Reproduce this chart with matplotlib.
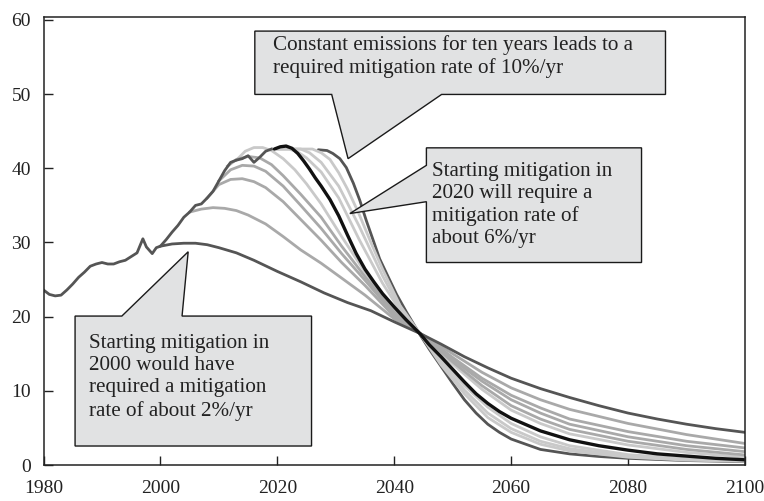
import matplotlib
matplotlib.use("Agg")
import matplotlib.pyplot as plt
from matplotlib.patches import Polygon

plt.rcParams['font.family'] = ['Liberation Serif', 'DejaVu Serif']

# --------------------------data--------------------------

hist_years = [1980, 1981, 1982, 1983, 1984, 1985, 1986, 1987, 1988, 1989, 1990, 1991,
              1992, 1993, 1994, 1995, 1996, 1997, 1997.6, 1998.6, 1999.3, 2000, 2001,
              2002, 2003, 2004, 2005, 2006, 2007, 2008, 2009, 2010, 2011, 2012, 2013,
              2014, 2015, 2016, 2017, 2018, 2019]
hist_vals = [23.6, 23.0, 22.8, 22.9, 23.6, 24.4, 25.3, 26.0, 26.8, 27.1, 27.3, 27.1,
             27.1, 27.4, 27.6, 28.1, 28.6, 30.5, 29.4, 28.5, 29.3, 29.5, 30.4,
             31.4, 32.3, 33.4, 34.1, 35.0, 35.2, 36.0, 36.9, 38.3, 39.7, 40.8, 41.1,
             41.3, 41.7, 40.8, 41.5, 42.3, 42.6]

# mitigation starting in 2000 (about 2%/yr)
m2000_years = [2000, 2002, 2004, 2006, 2008, 2010, 2013, 2016, 2020, 2024, 2028, 2032,
               2036, 2040, 2044.5, 2048, 2052, 2056, 2060, 2065, 2070, 2075, 2080,
               2085, 2090, 2095, 2100]
m2000_vals = [29.5, 29.8, 29.9, 29.9, 29.7, 29.3, 28.6, 27.6, 26.1, 24.7, 23.2, 21.9,
              20.8, 19.3, 17.7, 16.3, 14.6, 13.1, 11.7, 10.3, 9.1, 8.0, 7.0,
              6.2, 5.5, 4.9, 4.4]

# later starts, before 2020
m2005_years = [2005, 2007, 2009, 2011, 2013, 2015, 2018, 2021, 2024, 2027.5, 2031, 2035,
               2040, 2044.5, 2050, 2055, 2060, 2065, 2070, 2080, 2090, 2100]
m2005_vals = [34.1, 34.5, 34.7, 34.6, 34.3, 33.7, 32.5, 30.8, 29.0, 27.2, 25.2, 22.9,
              19.7, 17.7, 15.0, 12.5, 10.4, 8.8, 7.5, 5.6, 4.1, 2.9]

m2008_years = [2008, 2010, 2012, 2014, 2016, 2018, 2021, 2024, 2027.5, 2031, 2035, 2040,
               2044.5, 2050, 2055, 2060, 2065, 2070, 2080, 2090, 2100]
m2008_vals = [36.0, 37.8, 38.5, 38.6, 38.2, 37.4, 35.5, 33.1, 30.3, 27.3, 24.2, 20.0,
              17.7, 14.5, 11.7, 9.4, 7.7, 6.2, 4.5, 3.2, 2.3]

m2010_years = [2010, 2012, 2014, 2016, 2018, 2021, 2024, 2027.5, 2031, 2035, 2040,
               2044.5, 2050, 2055, 2060, 2065, 2070, 2080, 2090, 2100]
m2010_vals = [38.3, 39.8, 40.4, 40.3, 39.6, 37.6, 35.0, 31.9, 28.5, 24.9, 20.3,
              17.7, 14.2, 11.3, 8.8, 7.0, 5.5, 3.8, 2.6, 1.8]

m2012_years = [2011.5, 2013, 2015, 2017, 2019, 2021, 2024, 2027.5, 2031, 2035, 2040,
               2044.5, 2050, 2055, 2060, 2065, 2070, 2080, 2090, 2100]
m2012_vals = [40.3, 41.2, 41.6, 41.4, 40.5, 39.0, 36.5, 33.4, 29.5, 25.4, 20.6,
              17.7, 13.9, 10.7, 8.0, 6.2, 4.8, 3.2, 2.1, 1.35]

m2014_years = [2013, 2014.5, 2016, 2017.5, 2019, 2021, 2023, 2025, 2027.5, 2031, 2035,
               2040, 2044.5, 2050, 2055, 2060, 2065, 2070, 2080, 2090, 2100]
m2014_vals = [41.1, 42.3, 42.8, 42.8, 42.4, 41.3, 39.8, 37.9, 35.2, 30.8, 26.0,
              20.9, 17.7, 13.6, 10.2, 7.4, 5.6, 4.2, 2.7, 1.7, 1.05]

# starting in 2020 (about 6%/yr)
m2020_years = [2019.5, 2020.5, 2021.5, 2022.5, 2023.5, 2024.5, 2025.5, 2026.5, 2027.5,
               2029, 2030.5, 2032, 2033.5, 2035, 2036.5, 2038, 2040, 2042, 2044.4,
               2046, 2048, 2050, 2052, 2054, 2056, 2058, 2060, 2065, 2070, 2075,
               2080, 2085, 2090, 2095, 2100]
m2020_vals = [42.6, 42.9, 43.0, 42.7, 42.0, 41.0, 39.9, 38.7, 37.6,
              35.8, 33.6, 31.0, 28.5, 26.4, 24.7, 23.1, 21.3, 19.6, 17.7,
              16.2, 14.6, 12.9, 11.2, 9.6, 8.3, 7.2, 6.3, 4.6, 3.4, 2.6,
              2.0, 1.5, 1.2, 0.9, 0.7]

# constant emissions first, then mitigation
m2022_years = [2020, 2022, 2023.5, 2025, 2027.5, 2030.5, 2034, 2038, 2041, 2044.4,
               2048, 2052, 2056, 2060, 2065, 2070, 2080, 2090, 2100]
m2022_vals = [42.6, 42.6, 42.2, 41.4, 39.5, 36.0, 30.4, 24.5, 20.8, 17.7,
              14.2, 10.7, 7.8, 5.6, 3.8, 2.6, 1.4, 0.85, 0.6]

m2024_years = [2020, 2024, 2025.5, 2027.5, 2030.5, 2034, 2038, 2041, 2044.4, 2048,
               2052, 2056, 2060, 2065, 2070, 2080, 2090, 2100]
m2024_vals = [42.6, 42.6, 42.1, 40.8, 37.6, 32.2, 25.5, 21.1, 17.7, 13.8,
              10.1, 7.0, 4.9, 3.2, 2.2, 1.2, 0.75, 0.55]

m2026_years = [2020, 2026, 2027.5, 2029, 2030.5, 2032, 2034, 2036, 2038, 2041, 2044.4,
               2048, 2052, 2056, 2060, 2065, 2070, 2080, 2090, 2100]
m2026_vals = [42.6, 42.6, 42.1, 41.2, 39.4, 37.2, 33.8, 30.0, 26.4, 21.5, 17.7,
              13.5, 9.6, 6.4, 4.4, 2.8, 1.9, 1.05, 0.65, 0.5]

# constant for ten years (10%/yr)
m2030_years = [2027, 2028.5, 2029.5, 2030.7, 2031.8, 2033, 2034.1, 2035.2, 2036.4,
               2037.5, 2038.7, 2040.4, 2042.1, 2044.3, 2046, 2048, 2050, 2052, 2054,
               2056, 2058, 2060, 2065, 2070, 2075, 2080, 2090, 2100]
m2030_vals = [42.5, 42.4, 42.0, 41.3, 40.1, 38.0, 35.7, 33.0, 30.3,
              27.8, 25.8, 23.0, 20.6, 17.7, 15.6, 13.3, 11.0, 8.8, 7.0,
              5.5, 4.4, 3.5, 2.1, 1.5, 1.15, 0.9, 0.6, 0.45]

x_ticks = [1980, 2000, 2020, 2040, 2060, 2080, 2100]
y_ticks = [0, 10, 20, 30, 40, 50, 60]

note_top = "Constant emissions for ten years leads to a\nrequired mitigation rate of 10%/yr"
note_mid = "Starting mitigation in\n2020 will require a\nmitigation rate of\nabout 6%/yr"
note_low = "Starting mitigation in\n2000 would have\nrequired a mitigation\nrate of about 2%/yr"

# ---------------------------------------------------------------------------

dark = "#555555"
mid = "#a9a9a9"
light = "#c9c9c9"

fig = plt.figure(figsize=(7.64, 5.01), dpi=100)
ax = fig.add_axes([43.5 / 764, 36 / 501, (745 - 43.5) / 764, (465 - 17) / 501])

# light band of delayed curves first, dark ones on top
ax.plot(m2030_years, m2030_vals, color=dark, lw=2.0, solid_capstyle="round")
for yrs, vals in [(m2026_years, m2026_vals), (m2024_years, m2024_vals),
                  (m2022_years, m2022_vals)]:
	ax.plot(yrs, vals, color=light, lw=2.0)
for yrs, vals in [(m2014_years, m2014_vals)]:
	ax.plot(yrs, vals, color=light, lw=2.0)
for yrs, vals in [(m2012_years, m2012_vals), (m2010_years, m2010_vals),
                  (m2008_years, m2008_vals), (m2005_years, m2005_vals)]:
	ax.plot(yrs, vals, color=mid, lw=2.0)
ax.plot(m2000_years, m2000_vals, color=dark, lw=2.0)
ax.plot(hist_years, hist_vals, color=dark, lw=2.0)
ax.plot(m2020_years, m2020_vals, color="#111111", lw=2.4, solid_capstyle="round")

ax.set_xlim(1980, 2100)
ax.set_ylim(0, 60.4)
ax.set_xticks(x_ticks)
ax.set_yticks(y_ticks)
ax.tick_params(direction="in", length=6.5, width=1, colors="#222222",
               labelsize=14, top=False, right=False)
ax.tick_params(axis="x", pad=11)
ax.tick_params(axis="y", pad=9)
for s in ax.spines.values():
	s.set_color("#222222")
	s.set_linewidth(1.1)

# callout boxes
box_style = dict(facecolor="#e1e2e3", edgecolor="#1a1a1a", lw=1.0, zorder=5)
top_shape = [(2016.15, 58.5), (2086.4, 58.5), (2086.4, 49.96), (2048.1, 49.96),
             (2032.1, 41.3), (2029.3, 49.96), (2016.15, 49.96)]
mid_shape = [(2045.5, 42.76), (2082.3, 42.76), (2082.3, 27.3), (2045.5, 27.3),
             (2045.5, 35.5), (2032.4, 33.9), (2045.5, 40.4)]
low_shape = [(1985.4, 20.08), (1993.4, 20.08), (2004.75, 28.75), (2003.7, 20.08),
             (2025.85, 20.08), (2025.85, 2.56), (1985.4, 2.56)]
for shape in [top_shape, mid_shape, low_shape]:
	ax.add_patch(Polygon(shape, closed=True, **box_style))

txt = dict(fontsize=15.2, color="#222222", ha="left", va="center", zorder=6,
           linespacing=1.22)
ax.text(2019.3, 55.05, note_top, **txt)
ax.text(2046.4, 35.05, note_mid, **txt)
ax.text(1987.8, 11.8, note_low, **txt)

plt.savefig("out.png", dpi=100)
